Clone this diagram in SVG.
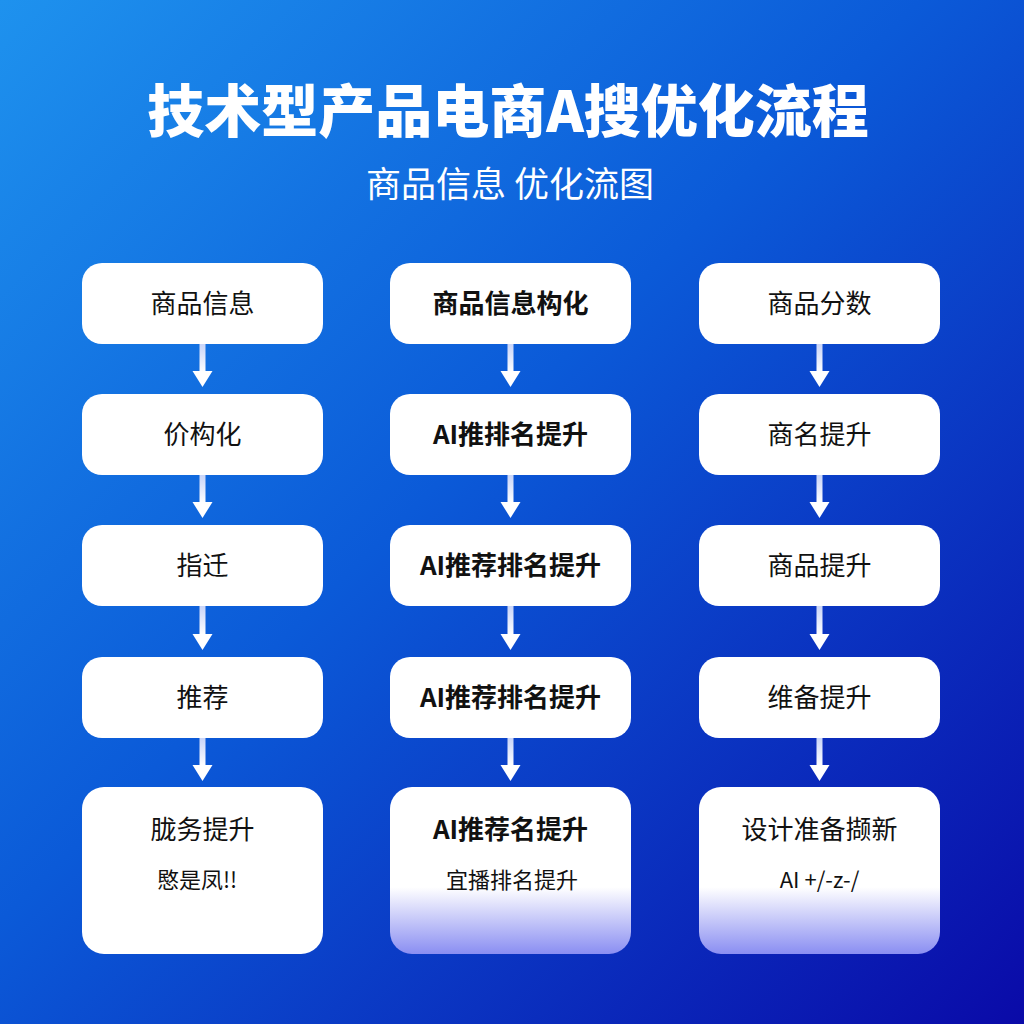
<svg xmlns="http://www.w3.org/2000/svg" width="1024" height="1024" viewBox="0 0 1024 1024">
<defs>
<linearGradient id="bg" x1="0" y1="0" x2="1" y2="1">
<stop offset="0" stop-color="#1e92ee"/>
<stop offset="0.45" stop-color="#0b5ad8"/>
<stop offset="1" stop-color="#0a0aa8"/>
</linearGradient>
<linearGradient id="fade" x1="0" y1="0" x2="0" y2="1">
<stop offset="0" stop-color="#ffffff"/>
<stop offset="0.6" stop-color="#ffffff"/>
<stop offset="1" stop-color="#8a8ef2"/>
</linearGradient>
<linearGradient id="shaft" x1="0" y1="0" x2="0" y2="1">
<stop offset="0" stop-color="#c8d4f8"/>
<stop offset="1" stop-color="#ffffff"/>
</linearGradient>
</defs>
<style>
.box{fill:#ffffff}
.t{font-family:"Noto Sans CJK SC","Noto Sans",sans-serif;font-size:26px;fill:#111111;text-anchor:middle}
.b{font-weight:bold}
.s{font-size:22px}
.sh{fill:url(#shaft)}
.hd{fill:#ffffff}
</style>
<rect width="1024" height="1024" fill="url(#bg)"/>
<text x="508" y="132" font-family="'Noto Sans CJK SC',sans-serif" font-size="57" font-weight="900" fill="#ffffff" text-anchor="middle">技术型产品电商A搜优化流程</text>
<text x="510" y="197" font-family="'Noto Sans CJK SC',sans-serif" font-size="35" fill="#ffffff" text-anchor="middle">商品信息 优化流图</text>

<g id="connectors">
<g class="sh">
<rect x="199.5" y="344" width="6" height="29"/>
<rect x="507.5" y="344" width="6" height="29"/>
<rect x="816.5" y="344" width="6" height="29"/>
<rect x="199.5" y="475" width="6" height="28"/>
<rect x="507.5" y="475" width="6" height="28"/>
<rect x="816.5" y="475" width="6" height="28"/>
<rect x="199.5" y="606" width="6" height="29"/>
<rect x="507.5" y="606" width="6" height="29"/>
<rect x="816.5" y="606" width="6" height="29"/>
<rect x="199.5" y="738" width="6" height="28"/>
<rect x="507.5" y="738" width="6" height="28"/>
<rect x="816.5" y="738" width="6" height="28"/>
</g>
<g class="hd">
<path d="M192.5 371 H212.5 L202.5 387 Z"/>
<path d="M500.5 371 H520.5 L510.5 387 Z"/>
<path d="M809.5 371 H829.5 L819.5 387 Z"/>
<path d="M192.5 502 H212.5 L202.5 518 Z"/>
<path d="M500.5 502 H520.5 L510.5 518 Z"/>
<path d="M809.5 502 H829.5 L819.5 518 Z"/>
<path d="M192.5 634 H212.5 L202.5 650 Z"/>
<path d="M500.5 634 H520.5 L510.5 650 Z"/>
<path d="M809.5 634 H829.5 L819.5 650 Z"/>
<path d="M192.5 765 H212.5 L202.5 781 Z"/>
<path d="M500.5 765 H520.5 L510.5 781 Z"/>
<path d="M809.5 765 H829.5 L819.5 781 Z"/>
</g>
</g>

<g id="n1_1"><rect class="box" x="82" y="263" width="241" height="81" rx="20"/><text class="t" x="202.5" y="313">商品信息</text></g>
<g id="n1_2"><rect class="box" x="82" y="394" width="241" height="81" rx="20"/><text class="t" x="202.5" y="444">价构化</text></g>
<g id="n1_3"><rect class="box" x="82" y="525" width="241" height="81" rx="20"/><text class="t" x="202.5" y="575">指迁</text></g>
<g id="n1_4"><rect class="box" x="82" y="657" width="241" height="81" rx="20"/><text class="t" x="202.5" y="707">推荐</text></g>
<g id="n1_5"><rect class="box" x="82" y="787" width="241" height="167" rx="22"/><text class="t" x="202.5" y="839">胧务提升</text><text class="t s" x="197" y="888">愍是凤!!</text></g>

<g id="n2_1"><rect class="box" x="390" y="263" width="241" height="81" rx="20"/><text class="t b" x="510.5" y="313">商品信息构化</text></g>
<g id="n2_2"><rect class="box" x="390" y="394" width="241" height="81" rx="20"/><text class="t b" x="510.5" y="444">AI推排名提升</text></g>
<g id="n2_3"><rect class="box" x="390" y="525" width="241" height="81" rx="20"/><text class="t b" x="510.5" y="575">AI推荐排名提升</text></g>
<g id="n2_4"><rect class="box" x="390" y="657" width="241" height="81" rx="20"/><text class="t b" x="510.5" y="707">AI推荐排名提升</text></g>
<g id="n2_5"><rect x="390" y="787" width="241" height="167" rx="22" fill="url(#fade)"/><text class="t b" x="510.5" y="839">AI推荐名提升</text><text class="t s" x="512" y="888">宜播排名提升</text></g>

<g id="n3_1"><rect class="box" x="699" y="263" width="241" height="81" rx="20"/><text class="t" x="819.5" y="313">商品分数</text></g>
<g id="n3_2"><rect class="box" x="699" y="394" width="241" height="81" rx="20"/><text class="t" x="819.5" y="444">商名提升</text></g>
<g id="n3_3"><rect class="box" x="699" y="525" width="241" height="81" rx="20"/><text class="t" x="819.5" y="575">商品提升</text></g>
<g id="n3_4"><rect class="box" x="699" y="657" width="241" height="81" rx="20"/><text class="t" x="819.5" y="707">维备提升</text></g>
<g id="n3_5"><rect x="699" y="787" width="241" height="167" rx="22" fill="url(#fade)"/><text class="t" x="819.5" y="839">设计准备撷新</text><text class="t s" x="819.5" y="888">AI +/-z-/</text></g>
</svg>
